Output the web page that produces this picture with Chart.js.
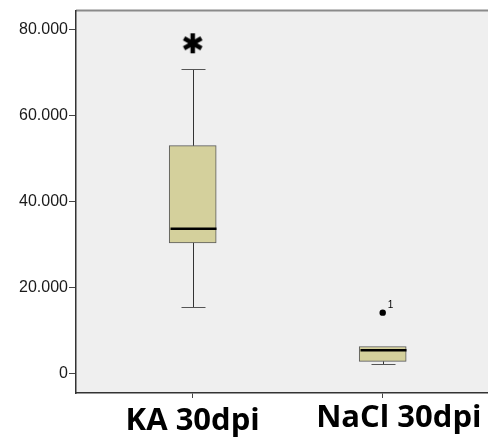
<!DOCTYPE html>
<html>
<head>
<meta charset="utf-8">
<script src="https://cdn.jsdelivr.net/npm/chart.js@4/dist/chart.umd.min.js"></script>
<style>
  body { margin: 0; background: #fff; }
  #wrap { width: 488px; height: 440px; }
</style>
</head>
<body>
<div id="wrap"><canvas id="boxChart" width="488" height="440"></canvas></div>
<script>
// groups and box statistics
var grupos = ["KA 30dpi", "NaCl 30dpi"];
var minimo  = [15460, 2180];
var q1      = [30450, 2870];
var mediana = [33770, 5490];
var q3      = [53070, 6350];
var maximo  = [70900, 6350];
// outliers: circle = outlier, star = extreme value
var outlierX = [2];
var outlierY = [14230];
var outlierLabel = ["1"];
var extremoX = [1];
var extremoY = [76900];
var yTicks = [0, 20000, 40000, 60000, 80000];

// formato 80.000
function formata(v) {
    return String(v).replace(/\B(?=(\d{3})+(?!\d))/g, ".");
}

// asterisco usado como pointStyle para valores extremos
var estrela = document.createElement("canvas");
estrela.width = 24;
estrela.height = 24;
(function () {
    var c = estrela.getContext("2d");
    c.strokeStyle = "#000";
    c.lineWidth = 4.5;
    c.translate(12, 12);
    for (var k = 0; k < 3; k++) {
        c.beginPath();
        c.moveTo(0, -10);
        c.lineTo(0, 10);
        c.stroke();
        c.rotate(Math.PI / 3);
    }
})();

var boxData = grupos.map(function (g, i) {
    return { x: i + 1, y: [q1[i], q3[i]] };
});
var outlierData = outlierX.map(function (x, i) { return { x: x, y: outlierY[i] }; });
var extremoData = extremoX.map(function (x, i) { return { x: x, y: extremoY[i] }; });

// fundo cinza e borda superior
var fundo = {
    id: "fundo",
    beforeDraw: function (chart) {
        var a = chart.chartArea, ctx = chart.ctx;
        ctx.save();
        ctx.fillStyle = "#efefef";
        ctx.fillRect(a.left, a.top, a.right - a.left, a.bottom - a.top);
        ctx.strokeStyle = "#8a8a8a";
        ctx.lineWidth = 2;
        ctx.beginPath();
        ctx.moveTo(a.left, a.top);
        ctx.lineTo(a.right, a.top);
        ctx.stroke();
        ctx.restore();
    }
};

// bigodes e mediana
var bigodes = {
    id: "bigodes",
    afterDatasetsDraw: function (chart) {
        var ctx = chart.ctx, xs = chart.scales.x, ys = chart.scales.y;
        ctx.save();
        for (var i = 0; i < grupos.length; i++) {
            var cx = Math.round(xs.getPixelForValue(i + 1)) + 0.5;
            ctx.strokeStyle = "#333";
            ctx.lineWidth = 1;
            ctx.beginPath();
            if (maximo[i] > q3[i]) {
                ctx.moveTo(cx, ys.getPixelForValue(q3[i]));
                ctx.lineTo(cx, ys.getPixelForValue(maximo[i]));
            }
            ctx.moveTo(cx, ys.getPixelForValue(q1[i]));
            ctx.lineTo(cx, ys.getPixelForValue(minimo[i]));
            ctx.stroke();
            ctx.strokeStyle = "#555";
            [minimo[i], maximo[i]].forEach(function (v) {
                if (v === q3[i]) return;
                var py = Math.round(ys.getPixelForValue(v)) + 0.5;
                ctx.beginPath();
                ctx.moveTo(cx - 12, py);
                ctx.lineTo(cx + 12, py);
                ctx.stroke();
            });
            // mediana
            var my = ys.getPixelForValue(mediana[i]);
            ctx.strokeStyle = "#000";
            ctx.lineWidth = 2.5;
            ctx.beginPath();
            ctx.moveTo(cx - 23, my);
            ctx.lineTo(cx + 23, my);
            ctx.stroke();
        }
        // rotulo do outlier
        ctx.fillStyle = "#000";
        ctx.font = "10px 'Liberation Sans', Arial";
        ctx.textAlign = "left";
        ctx.textBaseline = "middle";
        outlierX.forEach(function (x, i) {
            ctx.fillText(outlierLabel[i], xs.getPixelForValue(x) + 5, ys.getPixelForValue(outlierY[i]) - 7);
        });
        ctx.restore();
    }
};

var ctx = document.getElementById("boxChart").getContext("2d");
var boxChart = new Chart(ctx, {
    type: "bar",
    data: {
        datasets: [{
            data: boxData,
            backgroundColor: "#d4d09c",
            borderColor: "#5a5a5a",
            borderWidth: 1,
            borderSkipped: false,
            barThickness: 47
        }, {
            type: "scatter",
            data: outlierData,
            pointStyle: "circle",
            pointRadius: 3.2,
            backgroundColor: "#000",
            borderColor: "#000",
            borderWidth: 0
        }, {
            type: "scatter",
            data: extremoData,
            pointStyle: estrela,
            pointRadius: 10
        }]
    },
    options: {
        responsive: false,
        animation: false,
        layout: { autoPadding: false, padding: { top: 9, right: 0, left: 0, bottom: 0 } },
        plugins: { legend: { display: false }, tooltip: { enabled: false } },
        scales: {
            x: {
                type: "linear",
                min: 0.3858,
                max: 2.5542,
                offset: false,
                afterBuildTicks: function (axis) {
                    axis.ticks = grupos.map(function (g, i) { return { value: i + 1 }; });
                },
                afterFit: function (axis) {
                    axis.height = 47;
                    axis.paddingLeft = 0;
                    axis.paddingRight = 0;
                },
                grid: { display: true, drawOnChartArea: false, offset: false, tickLength: 5, color: "#444" },
                border: { display: true, color: "#333", width: 1.5 },
                ticks: {
                    autoSkip: false,
                    maxRotation: 0,
                    padding: 5,
                    color: "#000",
                    font: function (c) {
                        return { family: "'Open Sans', sans-serif", weight: "bold", size: 31, lineHeight: c.index === 0 ? 1.2 : 1.0 };
                    },
                    // o segundo rotulo fica um pouco deslocado para a direita no original
                    callback: function (v) { return (v === 2 ? "    " : "") + grupos[v - 1]; }
                }
            },
            y: {
                min: -4470,
                max: 84500,
                afterBuildTicks: function (axis) {
                    axis.ticks = yTicks.map(function (v) { return { value: v }; });
                },
                afterFit: function (axis) { axis.width = 76; },
                grid: { display: true, drawOnChartArea: false, tickLength: 7, color: "#444" },
                border: { display: true, color: "#333", width: 1.5 },
                ticks: {
                    padding: 1,
                    color: "#1a1a1a",
                    font: { family: "'Liberation Sans', Arial, sans-serif", size: 16 },
                    callback: function (v) { return formata(v); }
                }
            }
        }
    },
    plugins: [fundo, bigodes]
});
</script>
</body>
</html>
